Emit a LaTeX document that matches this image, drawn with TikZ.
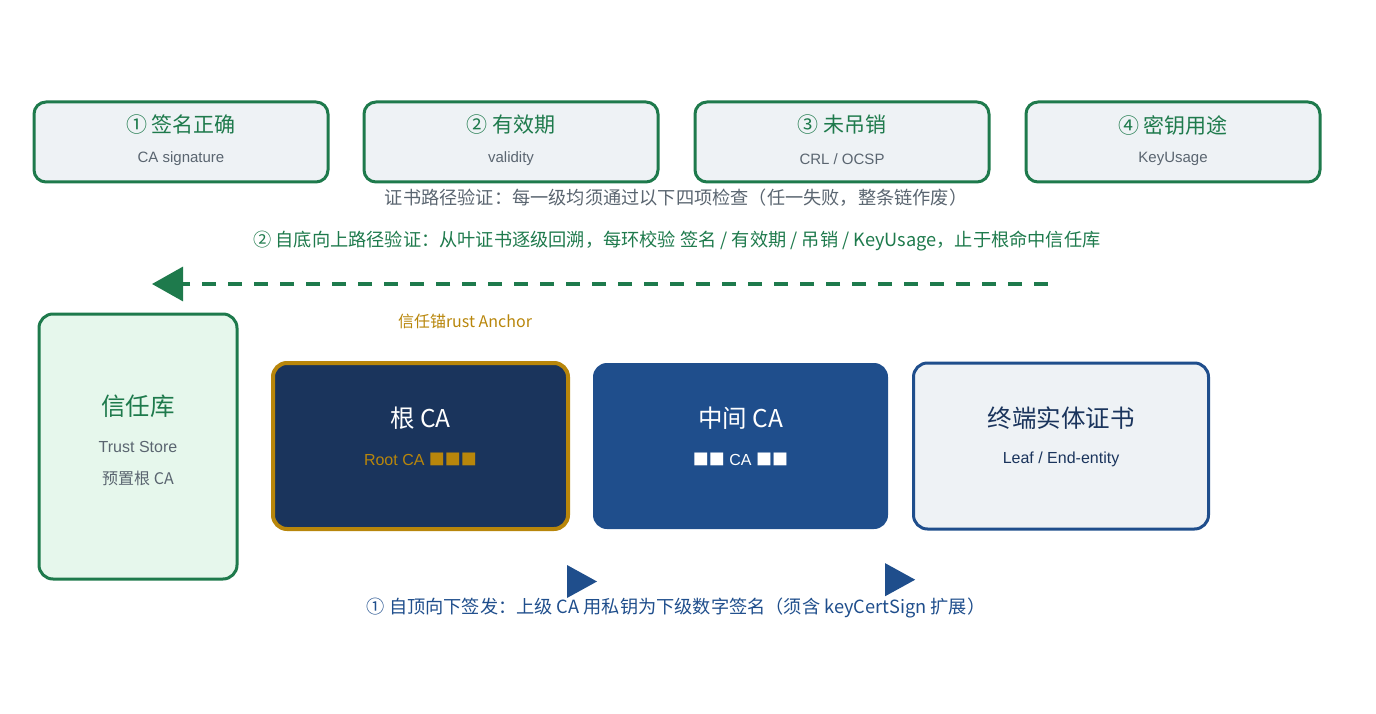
\documentclass[tikz,border=0pt]{standalone}
\usepackage{fontspec}
\setmainfont{Liberation Sans}
\newfontfamily\cjk{Noto Sans CJK SC}
\usetikzlibrary{positioning,arrows.meta}

\definecolor{grn}{HTML}{1E7A4C}
\definecolor{grnfill}{HTML}{E6F7EC}
\definecolor{chkfill}{HTML}{EEF2F5}
\definecolor{navy}{HTML}{1A345C}
\definecolor{blu}{HTML}{1F4E8C}
\definecolor{gold}{HTML}{B8860B}
\definecolor{gry}{HTML}{5A6570}

\tikzset{
  chkbox/.style={draw=grn,line width=3pt,fill=chkfill,rounded corners=12pt,minimum width=294pt,minimum height=80pt},
  bigtxt/.style={inner sep=0pt,font=\cjk\fontsize{21}{24}\selectfont},
  catxt/.style={inner sep=0pt,font=\cjk\fontsize{24.5}{28}\selectfont},
  smalltxt/.style={inner sep=0pt,text=gry,font=\fontsize{15}{18}\selectfont},
  captxt/.style={inner sep=0pt,font=\cjk\fontsize{18.2}{21}\selectfont},
  cabox/.style={rounded corners=14pt,minimum width=295pt,minimum height=166pt}
}

\begin{document}
\begin{tikzpicture}[x=1pt,y=-1pt]
  \useasboundingbox (0,0) rectangle (1376,714);

  % the four checks
  \foreach \x/\n/\t/\s in {181/1/{① 签名正确}/{CA signature},511/2/{② 有效期}/{validity},
                           842/3/{③ 未吊销}/{CRL / OCSP},1173/4/{④ 密钥用途}/{KeyUsage}}{
    \node[chkbox] (c\n) at (\x,142) {};
    \node[bigtxt,text=grn] at ([yshift=17pt]c\n.center) {\t};
    \node[smalltxt] at ([yshift=-17pt]c\n.center) {\s};
  }
  \node[captxt,text=gry] (rule) at (676,198) {证书路径验证：每一级均须通过以下四项检查（任一失败，整条链作废）};
  \node[captxt,text=grn] (up) at (677,241) {② 自底向上路径验证：从叶证书逐级回溯，每环校验 签名 / 有效期 / 吊销 / KeyUsage，止于根命中信任库};

  \coordinate (vstart) at (1048,284);
  \coordinate (vend) at (152,284);
  \draw[grn,line width=3.2pt,dash pattern=on 14pt off 12pt,-{Triangle[length=31pt,width=34pt]}] (vstart) -- (vend);

  % trust store
  \node[draw=grn,line width=3pt,fill=grnfill,rounded corners=14pt,minimum width=198pt,minimum height=265pt] (store) at (138,446.5) {};
  \node[catxt,text=grn] at ([yshift=40.5pt]store.center) {信任库};
  \node[smalltxt,font=\fontsize{16}{18}\selectfont] at (store.center) {Trust Store};
  \node[smalltxt,font=\cjk\fontsize{16}{18}\selectfont] at ([yshift=-31.5pt]store.center) {预置根 CA};

  \node[inner sep=0pt,text=gold,font=\cjk\fontsize{16}{18}\selectfont] (anchor) at (465,321) {信任锚rust Anchor};

  % the chain
  \node[cabox,draw=gold,line width=4pt,fill=navy] (root) at (420.5,446) {};
  \node[catxt,text=white] at ([yshift=28pt]root.center) {根 CA};
  \node[smalltxt,text=gold,font=\fontsize{16}{18}\selectfont] at ([yshift=-13pt]root.center) {Root CA {\cjk ■■■}};

  \node[cabox,fill=blu] (mid) at (740.5,446) {};
  \node[catxt,text=white] at ([yshift=28pt]mid.center) {中间 CA};
  \node[smalltxt,text=white,font=\fontsize{16}{18}\selectfont] at ([yshift=-13pt]mid.center) {{\cjk ■■} CA {\cjk ■■}};

  \node[cabox,draw=blu,line width=3pt,fill=chkfill] (leaf) at (1061,446) {};
  \node[catxt,text=navy] at ([yshift=28pt]leaf.center) {终端实体证书};
  \node[smalltxt,text=navy,font=\fontsize{16}{18}\selectfont] at ([yshift=-13pt]leaf.center) {Leaf / End-entity};

  \foreach \b in {root,mid}{
    \fill[blu] ([xshift=-3pt,yshift=-34pt]\b.south east) -- ++(30,16.5) -- ++(-30,16.5) -- cycle;
  }
  \node[captxt,text=blu] (down) at (676,608) {① 自顶向下签发：上级 CA 用私钥为下级数字签名（须含 keyCertSign 扩展）};
\end{tikzpicture}
\end{document}
